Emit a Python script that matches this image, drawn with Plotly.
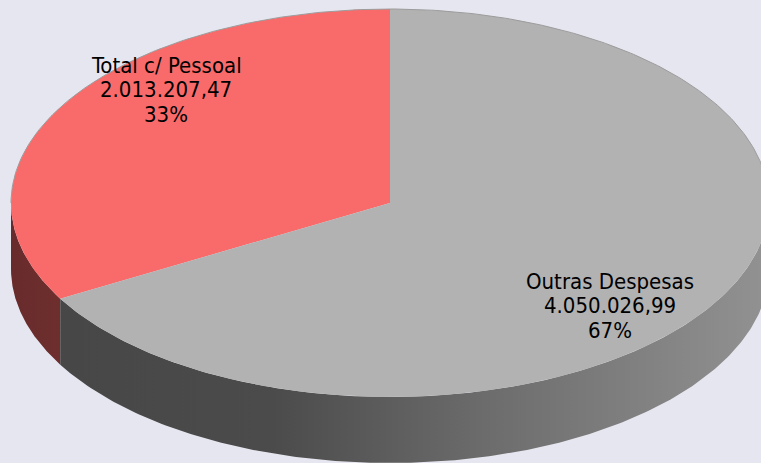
import numpy as np
import plotly.graph_objects as go

# ---- data ----
categories = ["Total c/ Pessoal", "Outras Despesas"]
values = [2013207.47, 4050026.99]
top_colors = ["#f96b6b", "#b2b2b2"]
side_colors = [
    [[0, "#682b2b"], [1, "#6e2e2e"]],
    [[0, "#474747"], [0.3, "#4b4b4b"], [0.6, "#6c6c6c"], [1, "#929292"]],
]

# ---- geometry (pixel space) ----
W, H = 761, 463
cx, cy = 390, 203
a, b = 379, 194
depth = 66
start = 90.0  # degrees, 12 o'clock, counter-clockwise

total = sum(values)
fracs = [v / total for v in values]


def ell(theta_deg, dy=0.0):
    t = np.radians(theta_deg)
    return cx + a * np.cos(t), cy - b * np.sin(t) + dy


def fmt_br(v):
    s = f"{v:,.2f}"
    return s.replace(",", "X").replace(".", ",").replace("X", ".")


fig = go.Figure()

# slice angle ranges
ranges = []
ang = start
for f in fracs:
    ranges.append((ang, ang + 360 * f))
    ang += 360 * f

# side walls (visible front half: 180..360 deg)
for (t0, t1), cs in zip(ranges, side_colors):
    segs = []
    for off in (0, 360, -360):
        lo = max(t0 + off, 180)
        hi = min(t1 + off, 360)
        if hi > lo:
            segs.append((lo, hi))
    for lo, hi in segs:
        th = np.linspace(lo, hi, 200)
        xt, yt = ell(th)
        xb, yb = ell(th[::-1], depth)
        xs = np.concatenate([xt, xb, xt[:1]])
        ys = np.concatenate([yt, yb, yt[:1]])
        fig.add_trace(go.Scatter(
            x=xs, y=ys, mode="lines", fill="toself",
            line=dict(width=0),
            fillgradient=dict(type="horizontal", colorscale=cs),
            hoverinfo="skip", showlegend=False))

# top face slices
for (t0, t1), col in zip(ranges, top_colors):
    th = np.linspace(t0, t1, 400)
    xe, ye = ell(th)
    xs = np.concatenate([[cx], xe, [cx]])
    ys = np.concatenate([[cy], ye, [cy]])
    fig.add_trace(go.Scatter(
        x=xs, y=ys, mode="lines", fill="toself", fillcolor=col,
        line=dict(width=0), hoverinfo="skip", showlegend=False))

# thin outline along back rim
th = np.linspace(0, 180, 300)
xo, yo = ell(th)
fig.add_trace(go.Scatter(x=xo, y=yo, mode="lines",
                         line=dict(color="#9c9c9c", width=1),
                         hoverinfo="skip", showlegend=False))

# labels
label_pos = [(166, 65), (610, 281)]
line_gap = 24.5
font = dict(family="DejaVu Sans Condensed, Liberation Sans Narrow, sans-serif",
            size=22, color="#000000")
for cat, v, f, (lx, ly) in zip(categories, values, fracs, label_pos):
    lines = [cat, fmt_br(v), f"{round(f * 100):d}%"]
    for i, txt in enumerate(lines):
        fig.add_annotation(x=lx, y=ly + i * line_gap, text=txt, showarrow=False,
                           xanchor="center", yanchor="middle", font=font)

fig.update_layout(
    width=W, height=H,
    margin=dict(l=0, r=0, t=0, b=0),
    paper_bgcolor="#e6e6f0", plot_bgcolor="#e6e6f0",
    xaxis=dict(range=[0, W], visible=False, fixedrange=True),
    yaxis=dict(range=[H, 0], visible=False, fixedrange=True),
    showlegend=False,
)

fig.write_html(
    "out.html",
    config={"displayModeBar": False},
    post_script="document.body.style.margin='0';document.body.style.background='#e6e6f0';",
)
